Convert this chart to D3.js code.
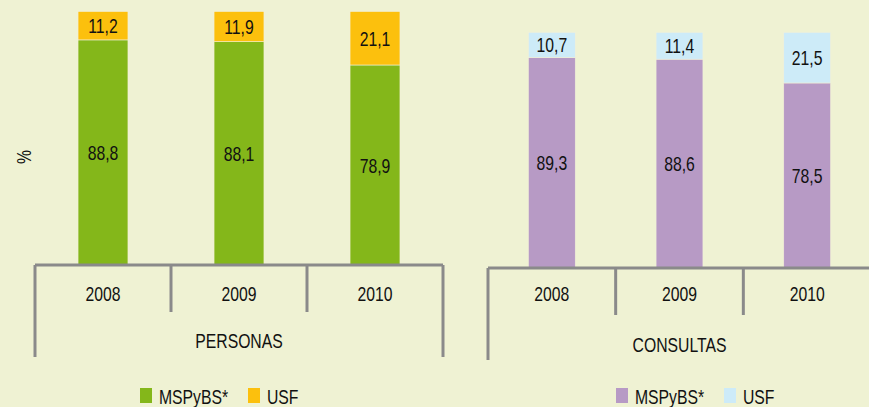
<!DOCTYPE html>
<html><head><meta charset="utf-8">
<script src="https://cdn.jsdelivr.net/npm/d3@7"></script>
<style>
html,body{margin:0;padding:0;background:#EFF2D3;}
svg{display:block;}
text{font-family:"Liberation Sans",Arial,sans-serif;fill:#111;}
</style></head><body>
<svg id="c" width="869" height="407"></svg>
<script>
const years = ["2008","2009","2010"];
const seriesNames = ["MSPyBS*","USF"];
const personasMSP = [88.8, 88.1, 78.9];
const personasUSF = [11.2, 11.9, 21.1];
const consultasMSP = [89.3, 88.6, 78.5];
const consultasUSF = [10.7, 11.4, 21.5];

const svg = d3.select("#c");
const fmt = v => d3.format(".1f")(v).replace(".", ",");
const SX = 0.75;
const FS = 21;

function label(parent, x, y, txt, anchor, rot) {
  return parent.append("text")
    .attr("transform", `translate(${x},${y})` + (rot ? ` rotate(${rot})` : "") + ` scale(${SX},1)`)
    .attr("dy", "0.36em")
    .attr("text-anchor", anchor || "middle")
    .attr("font-size", FS)
    .text(txt);
}

const panels = [
  {title:"PERSONAS", msp:personasMSP, usf:personasUSF, x0:35, x1:443, yBase:265, yTop:11.5,
   colors:["#84B71A","#FCC00D"], rightEdge:true, legendX:140, titleY:340},
  {title:"CONSULTAS", msp:consultasMSP, usf:consultasUSF, x0:488, x1:871, yBase:268, yTop:32.3,
   colors:["#B79AC5","#CDEBF8"], rightEdge:false, legendX:616, titleY:344}
];

panels.forEach(p => {
  const x = d3.scaleBand().domain(years).range([p.x0, p.x1]).padding(0);
  const y = d3.scaleLinear().domain([0,100]).range([p.yBase, p.yTop]);
  const bw = x.bandwidth()*0.367;
  const data = years.map((yr,i)=>({yr, a:p.msp[i], b:p.usf[i]}));
  const stack = d3.stack().keys(["a","b"])(data);
  const g = svg.append("g");
  stack.forEach((layer, li) => {
    g.selectAll(null).data(layer).enter().append("rect")
      .attr("x", d => x(d.data.yr) + x.bandwidth()/2 - bw/2)
      .attr("width", bw)
      .attr("y", d => y(d[1]))
      .attr("height", d => y(d[0]) - y(d[1]))
      .attr("fill", p.colors[li])
      .attr("stroke", "#F2F0D8").attr("stroke-width", 0.6);
    layer.forEach(d => {
      label(g, x(d.data.yr) + x.bandwidth()/2, (y(d[0]) + y(d[1]))/2, fmt(d[1]-d[0]));
    });
  });
  // axis
  const ax = svg.append("g").attr("stroke","#8A8A8A").attr("stroke-width",3).attr("fill","none");
  ax.append("line").attr("x1", p.x0).attr("x2", p.x1).attr("y1", p.yBase).attr("y2", p.yBase);
  ax.append("line").attr("x1", p.x0).attr("x2", p.x0).attr("y1", p.yBase).attr("y2", p.yBase+92);
  if (p.rightEdge) ax.append("line").attr("x1", p.x1).attr("x2", p.x1).attr("y1", p.yBase).attr("y2", p.yBase+92);
  years.slice(1).forEach(yr => {
    ax.append("line").attr("x1", x(yr)).attr("x2", x(yr)).attr("y1", p.yBase).attr("y2", p.yBase+47);
  });
  years.forEach(yr => label(svg, x(yr)+x.bandwidth()/2, 293, yr));
  label(svg, (p.x0+p.x1)/2, p.titleY, p.title);
  // legend
  const lg = svg.append("g").attr("transform", `translate(${p.legendX},396)`);
  const offs = [0, 108];
  seriesNames.forEach((s,i) => {
    lg.append("rect").attr("x", offs[i]).attr("y", -8).attr("width", 12).attr("height", 15).attr("fill", p.colors[i]);
    label(lg, offs[i]+19, 0, s, "start");
  });
});

label(svg, 23, 157, "%", "middle", -90);
</script>
</body></html>
